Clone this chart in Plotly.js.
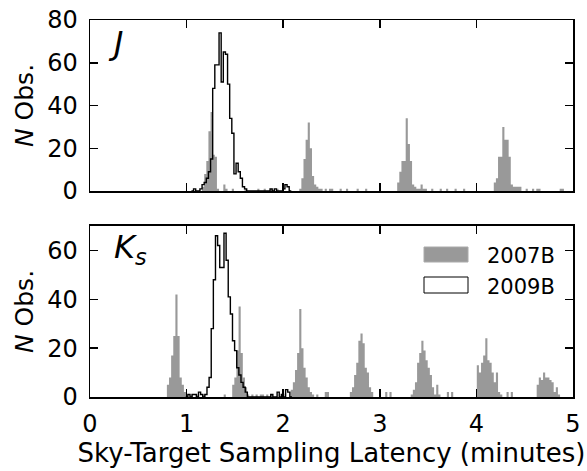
<!DOCTYPE html>
<html><head><meta charset="utf-8">
<script src="https://cdn.plot.ly/plotly-3.0.1.min.js"></script>
<style>html,body{margin:0;padding:0;background:#fff}#chart{width:587px;height:471px}</style>
</head><body><div id="chart"></div>
<script>
// bin width (minutes)
const binWidth = 0.022;

// 2007B, J band: bin left edges and counts
const j07_x = [1.160,1.182,1.204,1.226,1.248,1.270,1.292,1.314,
  1.380,1.402,1.468,1.600,1.732,1.798,1.864,1.930,
  2.166,2.188,2.210,2.232,2.254,2.276,2.298,2.320,2.342,2.364,2.386,
  2.430,2.474,2.496,2.584,2.650,2.760,2.848,
  3.180,3.202,3.224,3.246,3.268,3.290,3.312,3.334,3.356,3.378,3.400,3.422,3.444,3.466,3.532,3.620,3.686,3.774,3.862,
  4.180,4.202,4.224,4.246,4.268,4.290,4.312,4.334,4.356,4.378,4.400,4.422,4.444,
  4.510,4.576,4.620,4.642,4.862,4.884];
const j07_n = [2,8,14,28,37,17,16,1,
  3,1,1,1,1,1,1,1,
  1,6,15,24,32,20,7,3,2,1,1,
  1,1,1,1,1,1,1,
  4,9,14,14,34,22,14,3,2,1,1,3,1,1,1,1,1,1,1,
  4,6,16,16,30,24,24,16,3,2,2,2,2,
  1,1,1,1,1,1];

// 2007B, Ks band
const k07_x = [0.796,0.818,0.840,0.862,0.884,0.906,0.928,0.950,0.972,0.994,
  1.038,1.104,1.170,1.384,
  1.472,1.494,1.516,1.538,1.560,1.582,1.604,1.626,
  1.670,1.714,1.758,1.780,1.824,1.868,
  2.078,2.100,2.122,2.144,2.166,2.188,2.210,2.232,2.254,2.276,2.298,2.342,2.430,2.452,
  2.690,2.712,2.734,2.756,2.778,2.800,2.822,2.844,2.866,2.888,2.910,
  3.056,3.100,
  3.320,3.342,3.364,3.386,3.408,3.430,3.452,3.474,3.496,3.518,3.540,3.562,3.584,3.606,3.694,3.738,
  4.004,4.026,4.048,4.070,4.092,4.114,4.136,4.158,4.180,4.202,4.224,4.246,4.312,4.356,
  4.624,4.646,4.668,4.690,4.712,4.734,4.756,4.778,4.800,4.822,4.844];
const k07_n = [5,8,17,25,42,25,8,5,2,1,
  1,1,1,1,
  5,8,19,37,18,8,4,1,
  1,1,1,1,1,1,
  3,6,11,18,36,20,12,8,4,2,1,1,2,2,
  2,4,9,14,23,26,22,12,10,4,2,
  2,2,
  1,3,6,14,18,23,19,15,12,9,4,1,5,1,2,2,
  13,10,14,17,24,15,14,10,6,10,2,1,2,2,
  5,8,7,10,8,8,7,6,2,4,1];

// 2009B, J band: first bin edge and consecutive counts
const j09_start = 1.050;
const j09_n = [0,1,0,0,1,3,4,6,9,15,48,59,59,74,51,65,64,50,34,27,8,13,9,6,2,1,
  0,0,0,0,0,0,0,0,0,0,0,1,0,1,0,0,0,1,3,2,0];

// 2009B, Ks band
const k09_start = 0.991;
const k09_n = [0,1,0,1,1,0,2,1,0,1,4,8,28,48,66,62,53,53,67,56,41,34,23,19,12,9,6,4,2,
  0,0,0,0,0,0,0,0,0,0,0,1,0,0,2,0,1,0,3,2,0];

const xTicks = [0,1,2,3,4,5];
const jTicks = [0,20,40,60,80];
const kTicks = [0,20,40,60];
const seriesNames = ['2007B','2009B'];
const panelLabels = ['<i>J</i>','<i>K<sub>s</sub></i>'];

// step outline from consecutive bins
function stepXY(start, counts){
  const xs=[], ys=[];
  counts.forEach((c,i)=>{ xs.push(+(start+i*binWidth).toFixed(4)); ys.push(c); });
  xs.push(+(start+counts.length*binWidth).toFixed(4)); ys.push(0);
  return {xs, ys};
}
// filled step path from sparse bins (left edges + counts)
function filledStep(edges, counts){
  const xs=[], ys=[];
  for(let i=0;i<edges.length;i++){
    const e = edges[i], right = +(e+binWidth).toFixed(4);
    if(i===0 || Math.abs(edges[i-1]+binWidth-e) > 1e-6){ xs.push(e); ys.push(0); }
    xs.push(e); ys.push(counts[i]);
    const nextAdj = i+1<edges.length && Math.abs(edges[i+1]-right) < 1e-6;
    if(!nextAdj){ xs.push(right); ys.push(0); }
  }
  return {xs, ys};
}
const jStep = stepXY(j09_start, j09_n);
const kStep = stepXY(k09_start, k09_n);
const jFill = filledStep(j07_x, j07_n);
const kFill = filledStep(k07_x, k07_n);

const GRAY = '#999999';
const FONT = 'DejaVu Sans, Liberation Sans, sans-serif';

const traces = [
  {type:'scatter', mode:'lines', x:jFill.xs, y:jFill.ys, name:seriesNames[0], fill:'tozeroy',
   fillcolor:GRAY, line:{shape:'hv', color:GRAY, width:0}, xaxis:'x', yaxis:'y', hoverinfo:'skip'},
  {type:'scatter', mode:'lines', x:jStep.xs, y:jStep.ys, name:seriesNames[1],
   line:{shape:'hv', color:'#000', width:1.4}, xaxis:'x', yaxis:'y', hoverinfo:'skip'},
  {type:'scatter', mode:'lines', x:kFill.xs, y:kFill.ys, name:seriesNames[0], fill:'tozeroy',
   fillcolor:GRAY, line:{shape:'hv', color:GRAY, width:0}, xaxis:'x2', yaxis:'y2', hoverinfo:'skip'},
  {type:'scatter', mode:'lines', x:kStep.xs, y:kStep.ys, name:seriesNames[1],
   line:{shape:'hv', color:'#000', width:1.4}, xaxis:'x2', yaxis:'y2', hoverinfo:'skip'}
];

const axCommon = {
  ticks:'inside', ticklen:8, tickwidth:1.5, tickcolor:'#000',
  showline:true, linewidth:1.5, linecolor:'#000', mirror:'ticks',
  showgrid:false, zeroline:false, fixedrange:true, layer:'above traces',
  tickfont:{family:FONT, size:24, color:'#000'}
};

// paper coordinates helper for legend placement
const L=90, R=573, T=20, B=397;
const px = v => (v-L)/(R-L);
const py = v => (B-v)/(B-T);

const layout = {
  width:587, height:471,
  margin:{l:90, r:14, t:20, b:74, pad:0},
  paper_bgcolor:'#fff', plot_bgcolor:'#fff',
  showlegend:false,
  font:{family:FONT, color:'#000'},
  xaxis:Object.assign({}, axCommon, {domain:[0,1], range:[0,5], anchor:'y', tickvals:xTicks, showticklabels:false}),
  yaxis:Object.assign({}, axCommon, {domain:[0.5464,1], range:[0,80], anchor:'x', tickvals:jTicks,
     ticklabelstandoff:6,
     title:{text:'<i>N</i> Obs.', font:{family:FONT, size:25, color:'#000'}, standoff:6}}),
  xaxis2:Object.assign({}, axCommon, {domain:[0,1], range:[0,5], anchor:'y2', tickvals:xTicks,
     ticklabelstandoff:5,
     title:{text:'Sky-Target Sampling Latency (minutes)', font:{family:FONT, size:26, color:'#000'}, standoff:5}}),
  yaxis2:Object.assign({}, axCommon, {domain:[0,0.4536], range:[0,70], anchor:'x2', tickvals:kTicks,
     ticklabelstandoff:6,
     title:{text:'<i>N</i> Obs.', font:{family:FONT, size:25, color:'#000'}, standoff:6}}),
  annotations:[
    {xref:'x domain', yref:'y domain', x:0.033, y:0.99, xanchor:'left', yanchor:'top',
     text:panelLabels[0], showarrow:false, font:{family:FONT, size:32, color:'#000'}},
    {xref:'x2 domain', yref:'y2 domain', x:0.045, y:1.0, xanchor:'left', yanchor:'top',
     text:panelLabels[1], showarrow:false, font:{family:FONT, size:32, color:'#000'}},
    {xref:'paper', yref:'paper', x:px(485), y:py(256), xanchor:'left', yanchor:'middle',
     text:seriesNames[0], showarrow:false, font:{family:FONT, size:21, color:'#000'}},
    {xref:'paper', yref:'paper', x:px(485), y:py(287), xanchor:'left', yanchor:'middle',
     text:seriesNames[1], showarrow:false, font:{family:FONT, size:21, color:'#000'}}
  ],
  shapes:[
    {type:'rect', xref:'paper', yref:'paper', x0:px(424), x1:px(468), y0:py(262), y1:py(247),
     fillcolor:GRAY, line:{color:'#aaaaaa', width:1}},
    {type:'rect', xref:'paper', yref:'paper', x0:px(424), x1:px(468), y0:py(293), y1:py(277),
     fillcolor:'#fff', line:{color:'#000', width:1}}
  ]
};

Plotly.newPlot('chart', traces, layout, {staticPlot:true, displayModeBar:false});
</script>
</body></html>
